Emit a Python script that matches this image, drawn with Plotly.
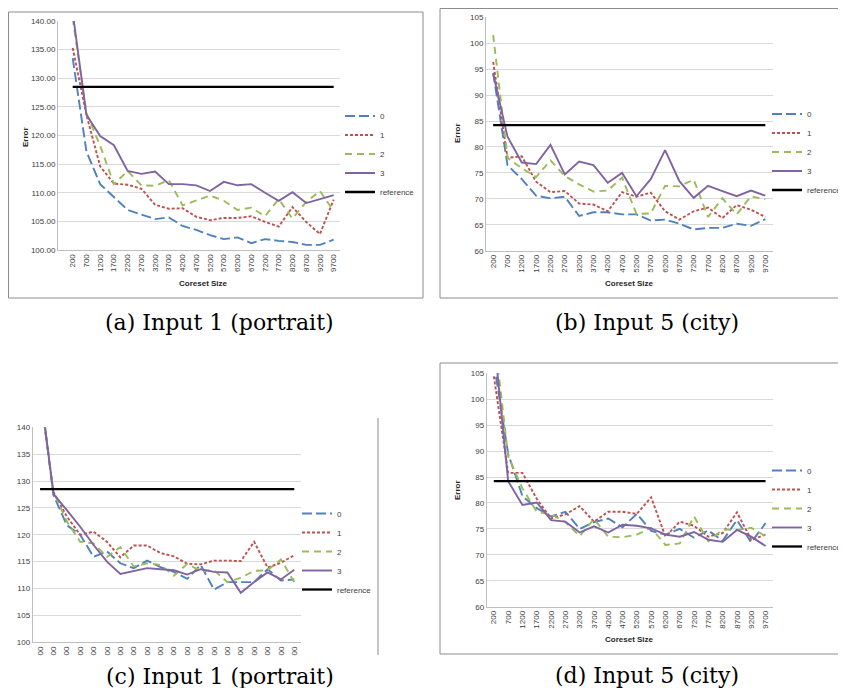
import plotly.graph_objects as go

# The page body adds an 8 px offset, so the figure covers the window from (8, 8).
OFF = 8
W, H = 846 - OFF, 688 - OFF

coreset_sizes = ["200", "700", "1200", "1700", "2200", "2700", "3200", "3700", "4200", "4700",
                 "5200", "5700", "6200", "6700", "7200", "7700", "8200", "8700", "9200", "9700"]
c_tick_labels = ["00", "00", "00", "00", "00", "00", "00", "00", "00", "00",
                 "00", "00", "00", "00", "00", "00", "00", "00", "00", "00"]
series_names = ["0", "1", "2", "3"]

# (a) Input 1 (portrait)
a_s0 = [133.5, 117.2, 111.5, 109.2, 107.0, 106.2, 105.4, 105.7, 104.2, 103.5, 102.6, 101.9, 102.2, 101.2, 101.9, 101.6, 101.4, 100.9, 100.9, 101.8]
a_s1 = [135.3, 123.6, 114.6, 111.6, 111.4, 110.7, 107.9, 107.2, 107.3, 105.8, 105.2, 105.6, 105.6, 105.9, 104.9, 104.1, 107.5, 104.9, 102.8, 108.8]
a_s2 = [140.5, 123.9, 118.2, 111.5, 113.8, 111.3, 111.2, 112.2, 107.8, 108.6, 109.5, 108.6, 107.0, 107.4, 105.9, 108.9, 105.5, 108.4, 110.3, 106.8]
a_s3 = [141.5, 123.6, 119.9, 118.3, 113.8, 113.3, 113.7, 111.5, 111.5, 111.3, 110.3, 111.9, 111.3, 111.5, 110.0, 108.6, 110.1, 108.2, 108.9, 109.6]
a_ref = 128.5

# (b) Input 5 (city)
b_s0 = [94.3, 76.5, 73.8, 70.6, 70.1, 70.4, 66.7, 67.4, 67.4, 67.0, 67.0, 65.8, 66.0, 65.2, 64.1, 64.4, 64.4, 65.2, 64.8, 66.1]
b_s1 = [96.4, 77.9, 78.2, 73.3, 71.3, 71.5, 69.1, 68.9, 67.6, 71.3, 70.4, 71.2, 67.6, 66.0, 67.6, 68.3, 66.3, 68.8, 67.9, 66.5]
b_s2 = [101.6, 77.9, 75.9, 74.2, 77.4, 74.4, 72.8, 71.4, 71.6, 74.1, 67.1, 67.2, 72.5, 72.4, 73.7, 66.5, 70.1, 67.0, 70.5, 69.9]
b_s3 = [94.1, 82.0, 77.0, 76.7, 80.4, 74.7, 77.2, 76.5, 73.1, 75.0, 70.5, 73.8, 79.4, 73.4, 70.2, 72.5, 71.5, 70.5, 71.6, 70.6]
b_ref = 84.2

# (c) Input 1 (portrait)
c_s0 = [147.0, 127.4, 121.8, 120.0, 115.9, 116.9, 114.7, 113.8, 115.2, 114.0, 113.1, 111.8, 114.4, 109.8, 111.2, 111.2, 111.2, 113.6, 111.5, 111.7]
c_s1 = [146.5, 128.0, 123.4, 120.0, 120.6, 118.7, 115.8, 118.0, 118.0, 116.6, 116.0, 114.6, 114.5, 115.2, 115.2, 115.1, 118.7, 113.9, 114.8, 116.2]
c_s2 = [147.0, 128.0, 122.5, 118.7, 118.4, 115.9, 117.7, 114.1, 114.7, 114.4, 112.4, 114.6, 113.3, 113.4, 111.2, 112.0, 113.3, 113.4, 115.4, 111.2]
c_s3 = [147.5, 127.6, 124.6, 121.5, 118.1, 115.0, 112.7, 113.3, 113.8, 113.6, 113.4, 112.6, 113.6, 113.1, 113.0, 109.2, 111.2, 113.0, 111.7, 113.5]
c_ref = 128.5

# (d) Input 5 (city)
d_s0 = [107.0, 89.5, 81.3, 79.0, 77.4, 78.3, 75.0, 76.3, 77.0, 75.3, 77.9, 74.6, 73.9, 75.0, 73.3, 74.7, 72.7, 76.7, 72.4, 76.1]
d_s1 = [104.4, 85.8, 85.8, 80.8, 77.0, 77.8, 79.4, 76.4, 78.3, 78.3, 77.9, 81.1, 73.5, 76.4, 75.6, 73.5, 74.2, 78.2, 72.9, 73.9]
d_s2 = [113.0, 89.0, 82.8, 78.3, 77.8, 76.3, 73.6, 76.9, 73.5, 73.4, 73.9, 75.2, 71.9, 72.2, 77.4, 72.6, 74.9, 74.8, 75.2, 73.6]
d_s3 = [112.0, 84.2, 79.6, 80.1, 76.7, 76.4, 74.3, 75.5, 74.3, 75.8, 75.6, 75.1, 73.9, 73.5, 74.4, 72.9, 72.5, 74.8, 73.5, 71.7]
d_ref = 84.2

colors = ["#4F81BD", "#C0504D", "#9BBB59", "#8064A2"]
dashes = ["10px,4px", "3px,2px", "7px,5px", "solid"]
FONT = "Liberation Sans"
TXT = "#404040"


def px(x):
    return (x - OFF) / W


def py(y):
    return 1 - (y - OFF) / H


fig = go.Figure()

panels = [
    ("", [a_s0, a_s1, a_s2, a_s3], a_ref, "legend"),
    ("2", [b_s0, b_s1, b_s2, b_s3], b_ref, "legend2"),
    ("3", [c_s0, c_s1, c_s2, c_s3], c_ref, "legend3"),
    ("4", [d_s0, d_s1, d_s2, d_s3], d_ref, "legend4"),
]

idx = list(range(len(coreset_sizes)))
for suf, series, ref, leg in panels:
    for name, ys, col, dash in zip(series_names, series, colors, dashes):
        fig.add_trace(go.Scatter(
            x=idx, y=ys, mode="lines", name=name,
            line=dict(color=col, width=1.9, dash=dash),
            xaxis="x" + suf, yaxis="y" + suf, legend=leg,
        ))
    fig.add_trace(go.Scatter(
        x=idx, y=[ref] * len(idx), mode="lines", name="reference",
        line=dict(color="#000000", width=2.3),
        xaxis="x" + suf, yaxis="y" + suf, legend=leg,
    ))

xcommon = dict(showgrid=False, zeroline=False, showline=True, linecolor="#BFBFBF", linewidth=1,
               tickmode="array", tickvals=idx, tickangle=-90, ticks="", automargin=False,
               tickfont=dict(family=FONT, size=8, color=TXT))
ycommon = dict(showgrid=True, gridcolor="#D9D9D9", gridwidth=1, zeroline=False, showline=True,
               linecolor="#BFBFBF", linewidth=1, ticks="", tickmode="linear", dtick=5, automargin=False,
               tickfont=dict(family=FONT, size=8, color=TXT))

fig.update_layout(
    width=W, height=H, margin=dict(l=0, r=0, t=0, b=0, autoexpand=False),
    paper_bgcolor="white", plot_bgcolor="white",
    xaxis=dict(xcommon, domain=[px(58), px(340)], range=[-1.07, 19.46], ticktext=coreset_sizes, anchor="y"),
    yaxis=dict(ycommon, domain=[py(250), py(21)], range=[100, 140], tickformat=".2f", anchor="x"),
    xaxis2=dict(xcommon, domain=[px(486), px(772.5)], range=[-0.5, 19.5], ticktext=coreset_sizes, anchor="y2"),
    yaxis2=dict(ycommon, domain=[py(250.7), py(17.3)], range=[60, 105], anchor="x2"),
    xaxis3=dict(xcommon, domain=[px(32.7), px(301)], range=[-0.55, 19.5], ticktext=c_tick_labels, anchor="y3"),
    yaxis3=dict(ycommon, domain=[py(642.3), py(427.3)], range=[100, 140], anchor="x3"),
    xaxis4=dict(xcommon, domain=[px(486.7), px(772.7)], range=[-0.5, 19.5], ticktext=coreset_sizes, anchor="y4"),
    yaxis4=dict(ycommon, domain=[py(606.7), py(373.3)], range=[60, 105], anchor="x4"),
    showlegend=True,
)

legend_common = dict(font=dict(family=FONT, size=8, color=TXT), bgcolor="rgba(0,0,0,0)",
                     itemwidth=30, xanchor="left", yanchor="top", tracegroupgap=0)
fig.update_layout(
    legend=dict(legend_common, x=px(340), y=py(101.5)),
    legend2=dict(legend_common, x=px(767), y=py(99.5)),
    legend3=dict(legend_common, x=px(297), y=py(499)),
    legend4=dict(legend_common, x=px(767), y=py(456)),
)

border = dict(color="#8C8C8C", width=1)
fig.add_shape(type="rect", xref="paper", yref="paper", x0=px(8.5), x1=px(423), y0=py(298), y1=py(12), line=border)
fig.add_shape(type="rect", xref="paper", yref="paper", x0=px(440), x1=px(852), y0=py(298), y1=py(8.5), line=border)
fig.add_shape(type="line", xref="paper", yref="paper", x0=px(378), x1=px(378), y0=py(655), y1=py(418), line=border)
fig.add_shape(type="rect", xref="paper", yref="paper", x0=px(440), x1=px(852), y0=py(654), y1=py(363), line=border)

title_font = dict(family=FONT, size=8, color="#262626")
for (xe, ye), (xc, yc) in [((25, 137), (203, 283)), ((457, 133), (629, 283)), ((457, 490), (629, 639))]:
    fig.add_annotation(text="<b>Error</b>", x=px(xe), y=py(ye), xref="paper", yref="paper",
                       showarrow=False, textangle=-90, font=title_font, xanchor="center", yanchor="middle")
    fig.add_annotation(text="<b>Coreset Size</b>", x=px(xc), y=py(yc), xref="paper", yref="paper",
                       showarrow=False, font=title_font, xanchor="center", yanchor="middle")

cap_font = dict(family="DejaVu Serif", size=22, color="#000000")
for text, xc, yc in [("(a) Input 1 (portrait)", 220, 322), ("(b) Input 5 (city)", 647, 322),
                     ("(c) Input 1 (portrait)", 220, 676), ("(d) Input 5 (city)", 647, 675)]:
    fig.add_annotation(text=text, x=px(xc), y=py(yc), xref="paper", yref="paper", showarrow=False,
                       font=cap_font, xanchor="center", yanchor="middle")

fig.write_html("out.html")
